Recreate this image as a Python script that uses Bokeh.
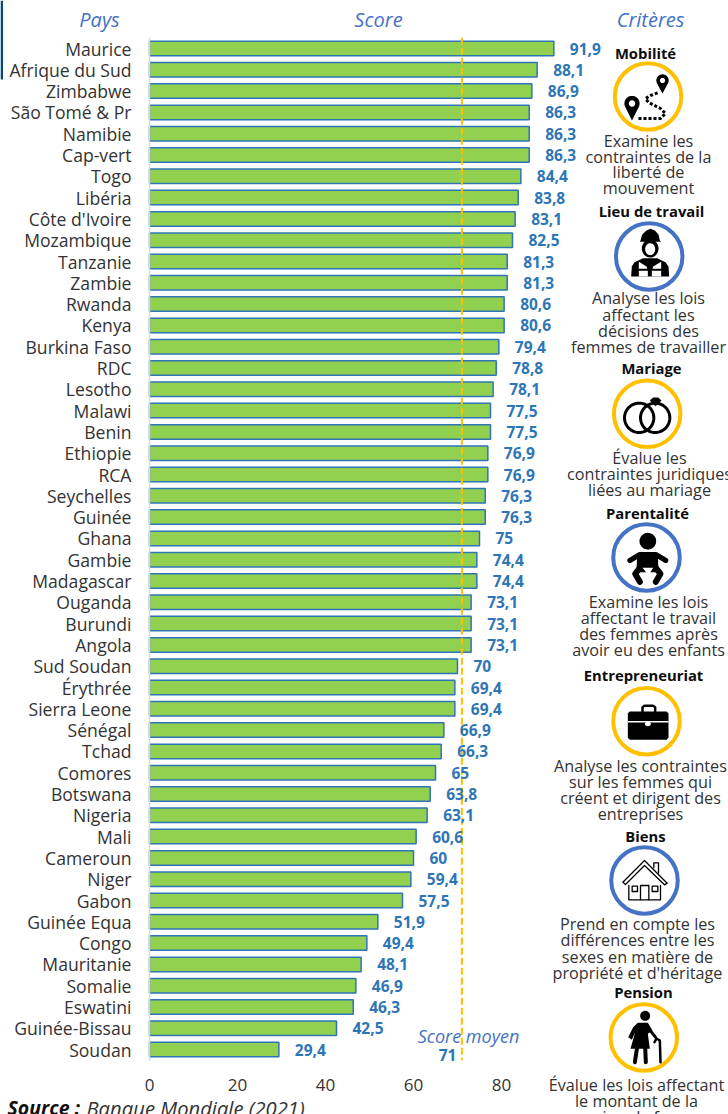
from bokeh.plotting import figure
from bokeh.models import Range1d, LinearAxis, FixedTicker
from bokeh.core.properties import value
from bokeh.embed import file_html
from bokeh.resources import INLINE
import numpy as np

pays = ["Maurice","Afrique du Sud","Zimbabwe","São Tomé & Pr","Namibie","Cap-vert","Togo","Libéria","Côte d'Ivoire","Mozambique",
        "Tanzanie","Zambie","Rwanda","Kenya","Burkina Faso","RDC","Lesotho","Malawi","Benin","Ethiopie",
        "RCA","Seychelles","Guinée","Ghana","Gambie","Madagascar","Ouganda","Burundi","Angola","Sud Soudan",
        "Érythrée","Sierra Leone","Sénégal","Tchad","Comores","Botswana","Nigeria","Mali","Cameroun","Niger",
        "Gabon","Guinée Equa","Congo","Mauritanie","Somalie","Eswatini","Guinée-Bissau","Soudan"]
scores = [91.9,88.1,86.9,86.3,86.3,86.3,84.4,83.8,83.1,82.5,
          81.3,81.3,80.6,80.6,79.4,78.8,78.1,77.5,77.5,76.9,
          76.9,76.3,76.3,75,74.4,74.4,73.1,73.1,73.1,70,
          69.4,69.4,66.9,66.3,65,63.8,63.1,60.6,60,59.4,
          57.5,51.9,49.4,48.1,46.9,46.3,42.5,29.4]
score_moyen = 71
x_ticks = [0,20,40,60,80]

FONT = "Open Sans"
BLUE = "#2e75b6"
HEAD = "#4472c4"
GOLD = "#ffc000"
RING_BLUE = "#4472c4"
DARK = "#333333"

W, H = 728, 1114
PXX = 4.4; X0 = 149
PXY = 21.3; Y0 = 48
ranks = list(range(len(pays)))

p = figure(width=W, height=H, output_backend="svg", toolbar_location=None,
           x_range=Range1d(-X0/PXX, (W-X0)/PXX),
           y_range=Range1d((H-Y0)/PXY, -Y0/PXY),
           x_axis_type=None, y_axis_type=None,
           min_border=0, min_border_left=0, min_border_right=0, min_border_top=0, min_border_bottom=0)
p.outline_line_color = None
p.grid.visible = False
p.background_fill_color = "white"
p.extra_x_ranges["px"] = Range1d(0, W)
p.extra_y_ranges["px"] = Range1d(H, 0)

# axes
yax = LinearAxis(ticker=FixedTicker(ticks=ranks),
                 major_label_overrides={i: n for i, n in enumerate(pays)},
                 fixed_location=0, bounds=(-0.5, len(pays)-0.5),
                 axis_line_color="#d9d9d9", axis_line_width=1.5,
                 major_tick_line_color=None, minor_tick_line_color=None,
                 major_label_standoff=12,
                 major_label_text_font=FONT, major_label_text_font_size="17.6px",
                 major_label_text_color=DARK)
p.add_layout(yax, "left")
xax = LinearAxis(ticker=FixedTicker(ticks=x_ticks),
                 fixed_location=len(pays)-0.5,
                 axis_line_color=None, major_tick_line_color=None, minor_tick_line_color=None,
                 major_label_standoff=13,
                 major_label_text_font=FONT, major_label_text_font_size="17px",
                 major_label_text_color=DARK)
p.add_layout(xax, "below")

# bars
p.hbar(y=ranks, right=scores, left=0, height=0.68, fill_color="#92d050",
       line_color=BLUE, line_width=1.5)
labels = [f"{v:g}".replace(".", ",") for v in scores]
# mean line
p.line([score_moyen, score_moyen], [-0.5, len(pays)-0.5], line_color=GOLD, line_width=2, line_dash="7 3")
p.text(x=scores, y=ranks, text=labels, x_offset=16, text_align="left", text_baseline="middle",
       text_font=value(FONT), text_font_style="bold", text_font_size="15.5px", text_color=BLUE)

PX = dict(x_range_name="px", y_range_name="px")

def put(x, y, s, size="16px", color=DARK, style="normal", align="center", font=FONT):
    p.text(x=[x], y=[y-1], text=[s], text_align=align, text_baseline="middle",
           text_font=value(font), text_font_size=size, text_color=color, text_font_style=style, **PX)

def center_lines(x, ys, lines, size="16.2px"):
    for y, s in zip(ys, lines):
        put(x, y, s, size=size)

# left stripe
p.quad(left=[0], right=[2.5], top=[0], bottom=[79], fill_color="#004a80", line_color=None, **PX)

# headers
put(99, 20, "Pays", size="20px", color=HEAD, style="italic")
put(378, 20, "Score", size="20px", color=HEAD, style="italic")
put(650, 20, "Critères", size="20px", color=HEAD, style="italic")
put(468, 1036, "Score moyen", size="18px", color=HEAD, style="italic")
put(447, 1055, f"{score_moyen}", size="15.5px", color=BLUE, style="bold")
put(7, 1108, "Source :", size="19.5px", color="#111111", style="bold italic", align="left")
put(86, 1108, "Banque Mondiale (2021)", size="20.2px", color=DARK, style="italic", align="left")

# criteria
BOLD = "14.8px"
crit = [
    ("Mobilité", 645, 53, 648, [141,157,172,188], ["Examine les","contraintes de la","liberté de","mouvement"]),
    ("Lieu de travail", 651, 211, 648, [298,315,331,347], ["Analyse les lois","affectant les","décisions des","femmes de travailler"]),
    ("Mariage", 651, 368, 649, [458,474,490], ["Évalue les","contraintes juridiques","liées au mariage"]),
    ("Parentalité", 647, 513, 648, [602,618,634,650], ["Examine les lois","affectant le travail","des femmes après","avoir eu des enfants"]),
    ("Entrepreneuriat", 643, 675, 640, [766,782,798,814], ["Analyse les contraintes","sur les femmes qui","créent et dirigent des","entreprises"]),
    ("Biens", 645, 836, 637, [924,940,957,973], ["Prend en compte les","différences entre les","sexes en matière de","propriété et d'héritage"]),
    ("Pension", 643, 992, 636, [1085,1101,1117], ["Évalue les lois affectant","le montant de la","pension de femme"]),
]
for t, tx, ty, dx, ys, lines in crit:
    put(tx, ty, t, size=BOLD, color="#0d0d0d", style="bold")
    center_lines(dx, ys, lines)

# icon rings
rings = [(647.5,96,GOLD),(648.7,256,RING_BLUE),(646.7,413.3,GOLD),(646,557,RING_BLUE),(646,720.7,GOLD),(644,880,RING_BLUE),(643.3,1037,GOLD)]
for cx, cy, col in rings:
    p.scatter([cx],[cy],size=66.5,marker="circle",fill_color="white",line_color=col,line_width=4,**PX)

K = "#000000"
def poly(pts, ox=0, oy=0, s=1/3, fill=K):
    xs = [ox+a*s for a,b in pts]; ys = [oy+b*s for a,b in pts]
    p.patch(xs, ys, fill_color=fill, line_color=None, **PX)
def pline(pts, ox=0, oy=0, s=1/3, w=2, color=K, dash="solid", cap="round"):
    xs = [ox+a*s for a,b in pts]; ys = [oy+b*s for a,b in pts]
    p.line(xs, ys, line_color=color, line_width=w, line_dash=dash, line_cap=cap, line_join="round", **PX)
def ell(cx, cy, rx, ry, fill=K):
    t = np.linspace(0, 2*np.pi, 40)
    p.patch(cx+rx*np.cos(t), cy+ry*np.sin(t), fill_color=fill, line_color=None, **PX)
def pin(cx, cy, r, tipy):
    t = np.linspace(np.pi*0.85, np.pi*2.15, 30)
    xs = list(cx+r*np.cos(t)) + [cx]; ys = list(cy+r*np.sin(t)) + [tipy]
    p.patch(xs, ys, fill_color=K, line_color=None, **PX)
    ell(cx, cy, r*0.42, r*0.42, fill="white")

# Mobilité
pin(631.5, 103, 7.6, 120)
pin(662, 80, 6.2, 93)
pline([(638,118),(660,118),(665,113),(660,108),(648,102),(645,98),(650,95),(658,92)], s=1, w=3, dash="3 2", cap="butt")

# Lieu de travail
o = (610, 220)
poly([(90,60),(95,42),(108,30),(120,25),(133,30),(144,42),(148,60),(152,64),(88,64)], *o)
ell(610+119/3, 220+84/3, 25/3, 27/3)
ell(610+119/3, 220+86/3, 15/3, 18/3, fill="white")
poly([(62,168),(64,138),(72,125),(98,113),(140,113),(165,125),(174,138),(176,168)], *o)
poly([(85,124),(108,138),(112,150),(112,168),(85,168)], *o, fill="white")
poly([(152,124),(128,138),(124,150),(124,168),(152,168)], *o, fill="white")
pline([(86,148),(112,148)], *o, w=2)
pline([(124,148),(152,148)], *o, w=2)

# Mariage
o = (540, 210)
t = np.linspace(0, 2*np.pi, 50)
pline(list(zip(296+44*np.cos(t), 622+44*np.sin(t))), *o, w=3)
pline(list(zip(344+44*np.cos(t), 622+44*np.sin(t))), *o, w=3)
poly([(328,570),(338,561),(353,561),(363,570),(345,587)], *o)

# Parentalité
o = (540, 510)
ell(540+322/3, 510+92/3, 25/3, 25/3)
pline([(268,150),(298,132),(346,132),(376,150)], *o, w=5)
poly([(290,128),(352,128),(354,185),(288,185)], *o)
pline([(298,172),(284,190),(298,214)], *o, w=6)
pline([(346,172),(360,190),(346,214)], *o, w=6)
poly([(306,172),(338,172),(324,194)], *o, fill="white")

# Entrepreneuriat
poly([(262,608),(268,603),(378,603),(384,608),(384,682),(378,688),(268,688),(262,682)], *o)
pline([(306,603),(306,590),(312,586),(338,586),(344,590),(344,603)], *o, w=2.5)
pline([(262,634),(384,634)], *o, w=1.5, color="white", cap="butt")
ell(540+322/3, 510+640/3, 9/3, 7/3, fill="white")

# Biens
o = (540, 830)
pline([(247,155),(312,90),(380,158),(372,163),(312,105),(255,162),(247,155)], *o, w=1.3)
pline([(340,112),(340,97),(354,97),(354,128)], *o, w=1.3)
pline([(265,165),(265,208),(360,208),(360,165)], *o, w=1.3)
pline([(300,208),(300,165),(325,165),(325,208)], *o, w=1.3)
pline([(275,167),(291,167),(291,183),(275,183),(275,167)], *o, w=1.3)
pline([(335,167),(352,167),(352,183),(335,183),(335,167)], *o, w=1.3)

# Pension
ell(540+314/3, 830+556/3, 15/3, 15/3)
poly([(292,577),(322,577),(336,600),(322,610),(328,655),(270,655),(284,605),(274,628),(263,620),(278,590)], *o)
pline([(290,650),(283,695)], *o, w=4)
pline([(314,650),(316,695)], *o, w=4)
pline([(325,595),(345,620)], *o, w=3)
pline([(342,635),(348,624),(358,630),(360,695)], *o, w=2.5)

open("out.html", "w").write(file_html(p, INLINE))
